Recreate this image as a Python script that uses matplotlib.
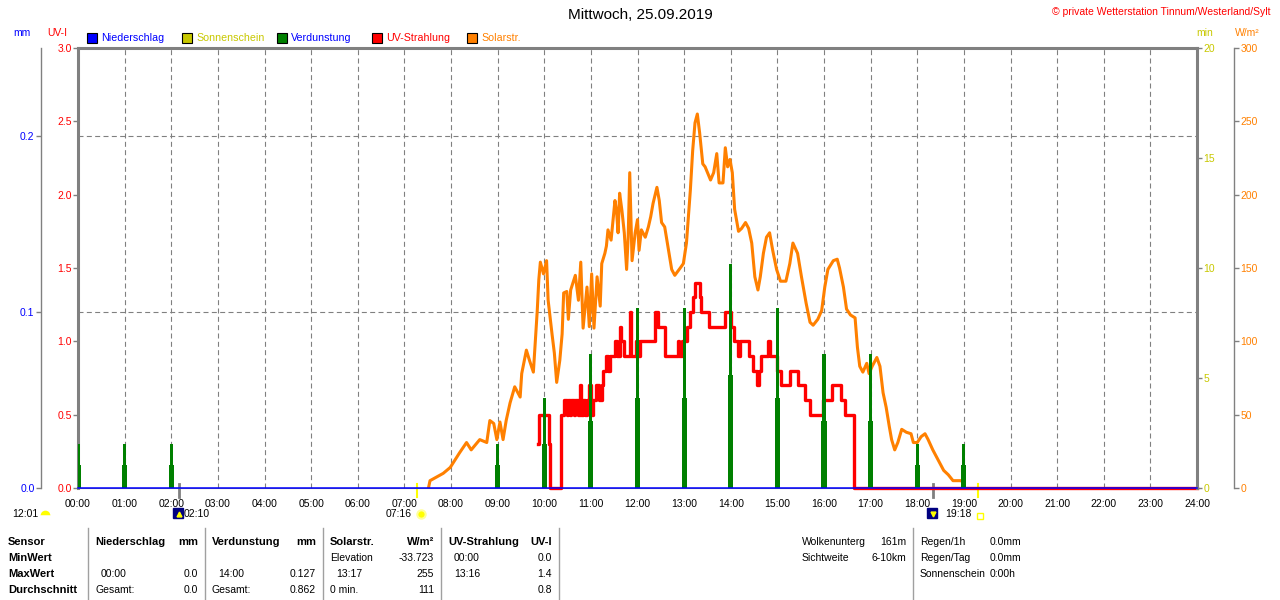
import matplotlib
matplotlib.use("Agg")
import matplotlib.pyplot as plt
from matplotlib.patches import Rectangle
from matplotlib.lines import Line2D
from matplotlib.transforms import blended_transform_factory

plt.rcParams['font.family'] = ['Liberation Sans', 'DejaVu Sans']

B, H = 1280, 600

# --- Daten ---
stunden_labels = ["%02d:00" % h for h in range(25)]
uv_ticks = [0.0, 0.5, 1.0, 1.5, 2.0, 2.5, 3.0]
mm_ticks = [0.0, 0.1, 0.2]
min_ticks = [0, 5, 10, 15, 20]
sol_ticks = [0, 50, 100, 150, 200, 250, 300]

# Niederschlag (mm)
regen_zeit = ["00:00", "24:00"]
regen_mm = [0.0, 0.0]

# Verdunstung (mm) pro Stunde, volle Hoehe und unterer dicker Teil
verd_zeit = ["00:00", "01:00", "02:00", "09:00", "10:00", "11:00", "12:00",
             "13:00", "14:00", "15:00", "16:00", "17:00", "18:00", "19:00"]
verd_mm = [0.025, 0.025, 0.025, 0.025, 0.051, 0.076, 0.102,
           0.102, 0.127, 0.102, 0.076, 0.076, 0.025, 0.025]
verd_teil = [0.013, 0.013, 0.013, 0.013, 0.025, 0.038, 0.051,
             0.051, 0.064, 0.051, 0.038, 0.038, 0.013, 0.013]

# UV-Strahlung (UV-I), Stufen
uv_zeit = ["09:52", "09:53", "10:06", "10:07", "10:22", "10:26", "10:29", "10:31",
           "10:33", "10:35", "10:38", "10:40", "10:44", "10:46", "10:47", "10:50",
           "10:52", "10:55", "10:57", "11:00", "11:03", "11:06", "11:10", "11:14",
           "11:16", "11:19", "11:22", "11:25", "11:31", "11:34", "11:37", "11:39",
           "11:43", "11:50", "11:52", "11:58", "12:01", "12:03", "12:22", "12:27",
           "12:36", "12:52", "12:54", "12:57", "13:04", "13:08", "13:12", "13:14",
           "13:20", "13:22", "13:32", "13:53", "14:00", "14:04", "14:09", "14:12",
           "14:24", "14:28", "14:34", "14:36", "14:39", "14:48", "14:50", "14:59",
           "15:05", "15:16", "15:27", "15:35", "15:42", "15:59", "16:10", "16:22",
           "16:27", "16:38", "24:00"]
uv_wert = [0.3, 0.5, 0.3, 0.0, 0.5, 0.6, 0.5, 0.6,
           0.5, 0.6, 0.5, 0.6, 0.5, 0.7, 0.5, 0.6,
           0.5, 0.6, 0.7, 0.5, 0.6, 0.7, 0.6, 0.7,
           0.8, 0.9, 0.8, 0.9, 1.0, 0.9, 1.1, 1.0,
           0.9, 1.2, 0.9, 1.0, 0.9, 1.0, 1.2, 1.1,
           0.9, 1.0, 0.9, 1.0, 1.1, 1.2, 1.3, 1.4,
           1.3, 1.2, 1.1, 1.2, 1.1, 1.0, 0.9, 1.0,
           0.9, 0.8, 0.7, 0.8, 0.9, 1.0, 0.9, 0.8,
           0.7, 0.8, 0.7, 0.6, 0.5, 0.6, 0.7, 0.6,
           0.5, 0.0, 0.0]

# Solarstrahlung (W/m2)
sol_zeit = ["07:31", "07:33", "07:50", "07:59", "08:11", "08:20", "08:26", "08:37",
            "08:46", "08:50", "08:55", "08:59", "09:03", "09:07", "09:11", "09:16",
            "09:22", "09:29", "09:31", "09:37", "09:41", "09:46", "09:48", "09:51",
            "09:53", "09:55", "09:59", "10:03", "10:05", "10:10", "10:13", "10:16",
            "10:20", "10:23", "10:25", "10:29", "10:31", "10:34", "10:40", "10:44",
            "10:47", "10:50", "10:55", "10:58", "11:01", "11:04", "11:08", "11:12",
            "11:14", "11:18", "11:20", "11:22", "11:26", "11:31", "11:33", "11:35",
            "11:37", "11:40", "11:43", "11:46", "11:48", "11:50", "11:53", "11:57",
            "12:00", "12:02", "12:05", "12:10", "12:14", "12:17", "12:20", "12:25",
            "12:28", "12:31", "12:35", "12:40", "12:44", "12:48", "12:55", "12:59",
            "13:03", "13:08", "13:11", "13:14", "13:17", "13:20", "13:24", "13:27",
            "13:34", "13:38", "13:42", "13:45", "13:50", "13:53", "13:56", "13:59",
            "14:02", "14:05", "14:10", "14:14", "14:19", "14:23", "14:27", "14:31",
            "14:35", "14:38", "14:42", "14:46", "14:50", "14:54", "14:59", "15:04",
            "15:11", "15:16", "15:20", "15:26", "15:31", "15:37", "15:42", "15:46",
            "15:52", "15:57", "16:01", "16:05", "16:12", "16:17", "16:20", "16:25",
            "16:29", "16:34", "16:40", "16:43", "16:46", "16:50", "16:55", "16:58",
            "17:02", "17:08", "17:12", "17:16", "17:20", "17:24", "17:27", "17:31",
            "17:35", "17:40", "17:46", "17:52", "17:55", "18:00", "18:05", "18:10",
            "18:14", "18:20", "18:27", "18:34", "18:40", "18:46", "18:57", "18:59"]
sol_wert = [0, 5, 10, 14, 24, 31, 26, 33,
            31, 46, 44, 33, 45, 33, 46, 58,
            69, 62, 78, 94, 87, 79, 96, 121,
            142, 154, 146, 155, 128, 105, 92, 72,
            87, 105, 133, 134, 115, 135, 145, 128,
            154, 109, 137, 110, 146, 109, 144, 124,
            153, 160, 165, 176, 169, 196, 189, 174,
            201, 189, 174, 149, 171, 215, 155, 174,
            183, 162, 176, 171, 178, 185, 194, 205,
            196, 181, 178, 162, 149, 145, 150, 153,
            167, 203, 230, 249, 255, 242, 221, 219,
            210, 215, 228, 208, 208, 232, 219, 224,
            215, 190, 175, 177, 181, 177, 167, 144,
            135, 144, 160, 171, 174, 162, 149, 141,
            141, 153, 167, 160, 144, 126, 113, 111,
            115, 121, 137, 149, 155, 156, 150, 137,
            122, 118, 116, 96, 83, 79, 85, 78,
            83, 89, 83, 65, 55, 42, 33, 26,
            31, 40, 38, 37, 31, 31, 35, 37,
            33, 26, 19, 12, 9, 5, 5, 3]

# Legende
leg_namen = ["Niederschlag", "Sonnenschein", "Verdunstung", "UV-Strahlung", "Solarstr."]
leg_farben = ["#0000ff", "#c8c800", "#008000", "#ff0000", "#ff8000"]
leg_textfarben = ["#0000ff", "#c8c800", "#0000ff", "#ff0000", "#ff8000"]

# Astro
tageslaenge = "12:01"
mond_auf = "02:10"
mond_unter = "18:20"
sonne_auf = "07:16"
sonne_unter = "19:18"

# Tabelle
zeilen = ["Sensor", "MinWert", "MaxWert", "Durchschnitt"]
block_titel = ["Niederschlag", "Verdunstung", "Solarstr.", "UV-Strahlung"]
block_einheit = ["mm", "mm", "W/m²", "UV-I"]
block_werte = [
    [("", ""), ("00:00", "0.0"), ("Gesamt:", "0.0")],
    [("", ""), ("14:00", "0.127"), ("Gesamt:", "0.862")],
    [("Elevation", "-33.723"), ("13:17", "255"), ("0 min.", "111")],
    [("00:00", "0.0"), ("13:16", "1.4"), ("", "0.8")],
]
wolken = [("Wolkenunterg", "161m"), ("Sichtweite", "6-10km")]
regen_info = [("Regen/1h", "0.0mm"), ("Regen/Tag", "0.0mm"), ("Sonnenschein", "0:00h")]


def std(s):
    h, m = s.split(":")
    return int(h) + int(m) / 60.0


def fx(x):
    return x / B


def fy(y):
    return 1 - y / H


GRAU = "#808080"
PT = 0.72  # 1 px in pt
STRICH = (0, (4.5, 3))

fig = plt.figure(figsize=(12.8, 6), dpi=100)
ax = fig.add_axes([fx(78), fy(488), (1197 - 78) / B, 440 / H])
ax_min = ax.twinx()
ax_sol = ax.twinx()
ax_mm = ax.twinx()

# UV-Achse (Hauptachse)
ax.set_xlim(0, 24)
ax.set_ylim(0, 3)
ax.set_xticks(range(25))
ax.set_xticklabels(stunden_labels)
ax.tick_params(axis='x', length=0, pad=8, labelsize=7.5)
ax.set_yticks(uv_ticks)
ax.set_yticklabels(["%.1f" % v for v in uv_ticks])
ax.tick_params(axis='y', length=5 * PT, width=1, color=GRAU, labelcolor='red', pad=1, labelsize=7.5)
# horizontale Gitterlinien der mm-Achse
ax.set_yticks([v * 3.0 / 0.25 for v in mm_ticks[1:]], minor=True)
ax.tick_params(axis='y', which='minor', length=0)
ax.grid(axis='x', color=GRAU, linestyle=STRICH, linewidth=0.8)
ax.grid(axis='y', which='minor', color=GRAU, linestyle=STRICH, linewidth=0.8)
ax.set_axisbelow(True)
ax.spines['top'].set_color(GRAU)
ax.spines['top'].set_linewidth(2.2)
ax.spines['left'].set_color(GRAU)
ax.spines['left'].set_linewidth(2.2)
ax.spines['bottom'].set_color(GRAU)
ax.spines['right'].set_visible(False)

# min-Achse
ax_min.set_ylim(0, 20)
ax_min.set_yticks(min_ticks)
ax_min.tick_params(axis='y', length=5 * PT, width=1, color=GRAU, labelcolor='#c8c800', pad=1, labelsize=7.5)
for s in ['top', 'bottom', 'left']:
    ax_min.spines[s].set_visible(False)
ax_min.spines['right'].set_color(GRAU)
ax_min.spines['right'].set_linewidth(2.2)

# W/m2-Achse
ax_sol.set_ylim(0, 300)
ax_sol.set_yticks(sol_ticks)
ax_sol.tick_params(axis='y', length=5 * PT, width=1, color=GRAU, labelcolor='#ff8000', pad=1, labelsize=7.5)
for s in ['top', 'bottom', 'left']:
    ax_sol.spines[s].set_visible(False)
ax_sol.spines['right'].set_position(('outward', 37 * PT))
ax_sol.spines['right'].set_color(GRAU)
ax_sol.spines['right'].set_linewidth(1)

# mm-Achse
ax_mm.set_ylim(0, 0.25)
ax_mm.yaxis.tick_left()
ax_mm.set_yticks(mm_ticks)
ax_mm.set_yticklabels(["%.1f" % v for v in mm_ticks])
ax_mm.tick_params(axis='y', length=5 * PT, width=1, color=GRAU, labelcolor='blue', pad=1, labelsize=7.5)
for s in ['top', 'bottom', 'right']:
    ax_mm.spines[s].set_visible(False)
ax_mm.spines['left'].set_position(('outward', 37 * PT))
ax_mm.spines['left'].set_color(GRAU)
ax_mm.spines['left'].set_linewidth(1)

# Kurven
ax_sol.plot([std(t) for t in sol_zeit], sol_wert, color='#ff8000', lw=2.2)
ax.plot([std(t) for t in uv_zeit], uv_wert, color='#ff0000', lw=2.4,
        drawstyle='steps-post', clip_on=False, zorder=3)
vt = [std(t) for t in verd_zeit]
ax_mm.bar(vt, verd_teil, width=0.11, color='#008000', linewidth=0)
ax_mm.bar(vt, verd_mm, width=0.065, color='#008000', linewidth=0)
ax_mm.plot([std(t) for t in regen_zeit], regen_mm, color='#0000ff', lw=1.1, clip_on=False)

# Texte oben
fig.text(0.5, fy(15), "Mittwoch, 25.09.2019", ha='center', va='center', fontsize=11)
fig.text(fx(1271), fy(12), "© private Wetterstation Tinnum/Westerland/Sylt",
         ha='right', va='center', color='red', fontsize=7.5)
fig.text(fx(22), fy(33), "mm", ha='center', va='center', color='blue', fontsize=7.5)
fig.text(fx(57), fy(33), "UV-I", ha='center', va='center', color='red', fontsize=7.5)
fig.text(fx(1205), fy(33), "min", ha='center', va='center', color='#c8c800', fontsize=7.5)
fig.text(fx(1247), fy(33), "W/m²", ha='center', va='center', color='#ff8000', fontsize=7.5)

leg_x = [87, 182, 277, 372, 467]
for x, name, fc, tc in zip(leg_x, leg_namen, leg_farben, leg_textfarben):
    fig.patches.append(Rectangle((fx(x), fy(43)), 10 / B, 10 / H, transform=fig.transFigure,
                                 facecolor=fc, edgecolor='black', linewidth=0.8))
    fig.text(fx(x + 14), fy(38), name, ha='left', va='center', color=tc, fontsize=7.7)

# Astro unten
tr = blended_transform_factory(ax.transData, fig.transFigure)
for t, c in [(mond_auf, GRAU), (mond_unter, GRAU), (sonne_auf, '#ffff00'), (sonne_unter, '#ffff00')]:
    ax.add_line(Line2D([std(t), std(t)], [fy(484), fy(497)], transform=tr, color=c,
                       lw=2 if c == GRAU else 1.5, clip_on=False))
for t, m in [(mond_auf, '^'), (mond_unter, 'v')]:
    ax.plot([std(t) - 0.02], [fy(513)], transform=tr, marker='s', ms=7.5, color='#000080',
            mec='#000080', clip_on=False)
    ax.plot([std(t)], [fy(514)], transform=tr, marker=m, ms=3.5, color='#ffff00', clip_on=False)
ax.plot([std(sonne_auf) + 0.08], [fy(514)], transform=tr, marker='o', ms=6, color='#ffff00',
        mec='#ffff99', mew=1.5, clip_on=False)
ax.plot([std(sonne_unter) + 0.05], [fy(516)], transform=tr, marker='s', ms=4, mfc='none',
        mec='#ffff00', mew=1, clip_on=False)
fig.text(fx(184), fy(514), mond_auf, ha='left', va='center', fontsize=7.5)
fig.text(fx(412), fy(514), sonne_auf, ha='right', va='center', fontsize=7.5)
fig.text(fx(945), fy(514), sonne_unter, ha='left', va='center', fontsize=7.5)
fig.text(fx(12), fy(514), tageslaenge, ha='left', va='center', fontsize=7.5)
fig.add_artist(Line2D([fx(45)], [fy(515)], marker='o', ms=7, mfc='#ffff00', mfcalt='white',
                      fillstyle='top', mew=0, transform=fig.transFigure))

# Tabelle
zeilen_y = [542, 558, 574, 590]
for y, z in zip(zeilen_y, zeilen):
    fig.text(fx(8), fy(y), z, ha='left', va='center', fontsize=8, fontweight='bold')
block_l = [95, 212, 330, 448]
block_r = [198, 316, 434, 552]
for xl, xr, tit, ein, werte in zip(block_l, block_r, block_titel, block_einheit, block_werte):
    fig.text(fx(xl), fy(zeilen_y[0]), tit, ha='left', va='center', fontsize=8, fontweight='bold')
    fig.text(fx(xr), fy(zeilen_y[0]), ein, ha='right', va='center', fontsize=8, fontweight='bold')
    for y, (a, b) in zip(zeilen_y[1:], werte):
        einr = 6 if (":" in a and not a.endswith(":")) else 0
        fig.text(fx(xl + einr), fy(y), a, ha='left', va='center', fontsize=7.5)
        fig.text(fx(xr), fy(y), b, ha='right', va='center', fontsize=7.5)
for y, (a, b) in zip(zeilen_y, wolken):
    fig.text(fx(802), fy(y), a, ha='left', va='center', fontsize=7.5)
    fig.text(fx(906), fy(y), b, ha='right', va='center', fontsize=7.5)
for y, (a, b) in zip(zeilen_y, regen_info):
    fig.text(fx(920), fy(y), a, ha='left', va='center', fontsize=7.5)
    fig.text(fx(990), fy(y), b, ha='left', va='center', fontsize=7.5)
for x in [88, 205, 323, 441, 559, 913]:
    fig.add_artist(Line2D([fx(x), fx(x)], [fy(528), fy(600)], color='#a0a0a0', lw=1,
                          transform=fig.transFigure))

fig.savefig("out.png", dpi=100)
